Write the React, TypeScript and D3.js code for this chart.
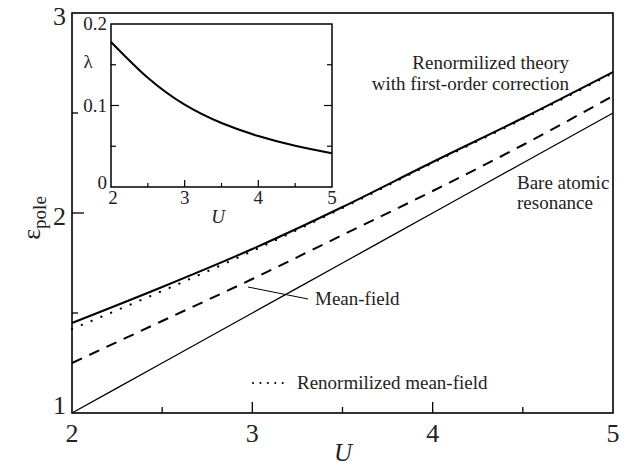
import React from "react";
import * as d3 from "d3";

// Main panel: pole energy versus U
const uGrid = [2, 2.5, 3, 3.5, 4, 4.5, 5];
const firstOrder = [1.45, 1.63, 1.82, 2.03, 2.255, 2.475, 2.705];
const renormMF = [1.42, 1.61, 1.81, 2.025, 2.25, 2.47, 2.70];
const meanField = [1.25, 1.46, 1.67, 1.89, 2.11, 2.34, 2.585];
const bareAtomic = [1.0, 1.25, 1.5, 1.75, 2.0, 2.25, 2.5];

// Inset: lambda versus U
const insetU = [2, 2.5, 3, 3.5, 4, 4.5, 5];
const lambda = [0.178, 0.134, 0.101, 0.0785, 0.0625, 0.0505, 0.0413];

const xMajor = [2, 3, 4, 5];
const xMinor = [2.5, 3.5, 4.5];
const yMajor = [1, 2, 3];
const yMinor = [1.5, 2.5];
const insetYMajor = [0, 0.1, 0.2];
const insetYMinor = [0.05, 0.15];

const serif = { fontFamily: "Liberation Serif" };

export default function App() {
  const W = 631;
  const H = 466;
  const x = d3.scaleLinear().domain([2, 5]).range([72, 613]);
  const y = d3.scaleLinear().domain([1, 3]).range([413, 13]);

  const ix = d3.scaleLinear().domain([2, 5]).range([111, 332]);
  const iy = d3.scaleLinear().domain([0, 0.2]).range([187, 24]);

  const mainLine = (vals: number[]) =>
    d3
      .line<number>()
      .x((_, i) => x(uGrid[i]))
      .y((v) => y(v))
      .curve(d3.curveMonotoneX)(vals) || "";

  const insetLine =
    d3
      .line<number>()
      .x((_, i) => ix(insetU[i]))
      .y((v) => iy(v))
      .curve(d3.curveNatural)(lambda) || "";

  return (
    <svg width={W} height={H} style={{ display: "block", position: "absolute", left: 0, top: 0 }}>
      <rect x={0} y={0} width={W} height={H} fill="#fff" />

      {/* curves */}
      <path d={mainLine(bareAtomic)} fill="none" stroke="#000" strokeWidth={1.3} />
      <path d={mainLine(meanField)} fill="none" stroke="#000" strokeWidth={2} strokeDasharray="11 8" />
      <path d={mainLine(renormMF)} fill="none" stroke="#000" strokeWidth={2.2} strokeDasharray="0.1 10.5" strokeLinecap="round" />
      <path d={mainLine(firstOrder)} fill="none" stroke="#000" strokeWidth={2} />

      {/* main frame */}
      <rect x={72} y={13} width={541} height={400} fill="none" stroke="#000" strokeWidth={1.6} />

      {/* main ticks */}
      {xMajor.slice(1, 3).map((t) => (
        <line key={"xM" + t} x1={x(t)} x2={x(t)} y1={413} y2={402} stroke="#000" strokeWidth={1.3} />
      ))}
      {xMinor.map((t) => (
        <line key={"xm" + t} x1={x(t)} x2={x(t)} y1={413} y2={407} stroke="#000" strokeWidth={1.3} />
      ))}
      <line x1={72} x2={84} y1={y(2)} y2={y(2)} stroke="#000" strokeWidth={1.3} />
      {yMinor.map((t) => (
        <line key={"ym" + t} x1={72} x2={78} y1={y(t)} y2={y(t)} stroke="#000" strokeWidth={1.3} />
      ))}

      {/* main tick labels */}
      <g fontSize={26} fill="#222" style={serif}>
        {xMajor.map((t) => (
          <text key={"xl" + t} x={x(t)} y={442} textAnchor="middle">
            {t}
          </text>
        ))}
        {yMajor.map((t) => (
          <text key={"yl" + t} x={66} y={t === 1 ? 414 : y(t) + 12} textAnchor="end">
            {t}
          </text>
        ))}
        <text x={343} y={461} textAnchor="middle" fontStyle="italic" fontSize={25}>
          U
        </text>
        <text transform="translate(40,218) rotate(-90)" textAnchor="middle">
          ε<tspan fontSize={19} dy={6}>pole</tspan>
        </text>
      </g>

      {/* annotations */}
      <g fontSize={19} fill="#222" style={serif}>
        <text x={569} y={69} textAnchor="end">Renormilized theory</text>
        <text x={569} y={90} textAnchor="end">with first-order correction</text>
        <text x={517} y={189}>Bare atomic</text>
        <text x={517} y={209}>resonance</text>
        <text x={315} y={305}>Mean-field</text>
        <text x={297} y={389}>Renormilized mean-field</text>
      </g>
      <line x1={248} y1={287} x2={308} y2={299} stroke="#000" strokeWidth={1} />
      <line x1={253} y1={383} x2={283} y2={383} stroke="#000" strokeWidth={2} strokeDasharray="0.1 7.3" strokeLinecap="round" />

      {/* inset */}
      <rect x={111} y={24} width={221} height={163} fill="#fff" stroke="#000" strokeWidth={1.5} />
      <path d={insetLine} fill="none" stroke="#000" strokeWidth={2} />
      {[3, 4].map((t) => (
        <line key={"ixM" + t} x1={ix(t)} x2={ix(t)} y1={187} y2={180} stroke="#000" strokeWidth={1.2} />
      ))}
      {xMinor.map((t) => (
        <line key={"ixm" + t} x1={ix(t)} x2={ix(t)} y1={187} y2={183} stroke="#000" strokeWidth={1.2} />
      ))}
      {[0.1].map((t) => (
        <g key={"iyM" + t}>
          <line x1={111} x2={119} y1={iy(t)} y2={iy(t)} stroke="#000" strokeWidth={1.2} />
          <line x1={332} x2={324} y1={iy(t)} y2={iy(t)} stroke="#000" strokeWidth={1.2} />
        </g>
      ))}
      {insetYMinor.map((t) => (
        <g key={"iym" + t}>
          <line x1={111} x2={116} y1={iy(t)} y2={iy(t)} stroke="#000" strokeWidth={1.2} />
          <line x1={332} x2={327} y1={iy(t)} y2={iy(t)} stroke="#000" strokeWidth={1.2} />
        </g>
      ))}
      <g fontSize={19} fill="#222" style={serif}>
        {xMajor.map((t) => (
          <text key={"ixl" + t} x={ix(t) + (t === 2 ? 2 : 0)} y={204} textAnchor="middle">
            {t}
          </text>
        ))}
        {insetYMajor.map((t) => (
          <text key={"iyl" + t} x={107} y={t === 0 ? 189 : iy(t) + 6} textAnchor="end">
            {t}
          </text>
        ))}
        <text x={218} y={223} textAnchor="middle" fontStyle="italic">
          U
        </text>
        <text x={88} y={68} textAnchor="middle">
          λ
        </text>
      </g>
    </svg>
  );
}
